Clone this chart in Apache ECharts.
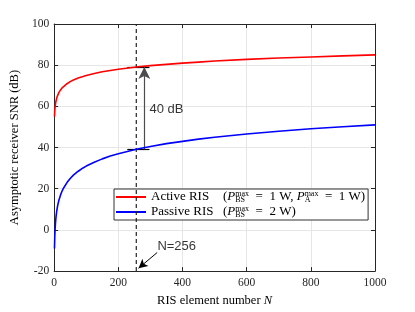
<!DOCTYPE html>
<html><head><meta charset="utf-8">
<script src="https://cdn.jsdelivr.net/npm/echarts@6/dist/echarts.min.js"></script>
<style>html,body{margin:0;padding:0;background:#fff}#c{width:415px;height:312px}</style>
</head><body><div id="c"></div>
<script>
// Data
const nValues = [1, 2, 3, 4, 5, 6, 8, 10, 12, 15, 20, 25, 30, 40, 50, 60, 75, 90, 100, 125, 150, 175, 200, 225, 256, 300, 350, 400, 450, 500, 600, 700, 800, 900, 1000];
const activeSNR = [55.0, 58.0, 59.8, 61.0, 62.0, 62.8, 64.0, 65.0, 65.8, 66.8, 68.0, 69.0, 69.8, 71.0, 72.0, 72.8, 73.8, 74.5, 75.0, 76.0, 76.8, 77.4, 78.0, 78.5, 79.1, 79.8, 80.4, 81.0, 81.5, 82.0, 82.8, 83.5, 84.0, 84.5, 85.0];
const passiveSNR = [-9.0, -3.0, 0.5, 3.0, 5.0, 6.6, 9.1, 11.0, 12.6, 14.5, 17.0, 19.0, 20.5, 23.0, 25.0, 26.6, 28.5, 30.1, 31.0, 32.9, 34.5, 35.9, 37.0, 38.0, 39.2, 40.5, 41.9, 43.0, 44.1, 45.0, 46.6, 47.9, 49.1, 50.1, 51.0];
const xTicks = [0, 200, 400, 600, 800, 1000];
const yTicks = [-20, 0, 20, 40, 60, 80, 100];
const markN = 256;
const activeAtMark = 79.1;
const passiveAtMark = 39.2;
const gainLabel = '40 dB';
const markLabel = 'N=256';

const serif = '"Liberation Serif", "DejaVu Serif", serif';
const sans = '"Liberation Sans", Arial, sans-serif';
const axisCol = '#262626';

const chart = echarts.init(document.getElementById('c'));
const richBase = {
  n: {fontFamily: serif, fontSize: 13, width: 72, color: '#000'},
  t: {fontFamily: serif, fontSize: 13, color: '#000'},
  i: {fontFamily: serif, fontSize: 13, fontStyle: 'italic', color: '#000'},
  sb: {fontFamily: serif, fontSize: 8, width: 0, verticalAlign: 'bottom', lineHeight: 14, color: '#000'},
  sp: {fontFamily: serif, fontSize: 8, verticalAlign: 'top', lineHeight: 14, color: '#000'}
};
const axisCommon = {
  type: 'value',
  axisLine: {show: true, onZero: false, lineStyle: {color: axisCol, width: 1}},
  axisTick: {show: true, inside: true, length: 4, lineStyle: {color: axisCol}},
};
const fmt = v => String(v);
chart.setOption({
  animation: false,
  grid: {left: 54, right: 40, top: 24, bottom: 35, containLabel: false},
  xAxis: [
    Object.assign({}, axisCommon, {min: xTicks[0], max: xTicks[xTicks.length-1], interval: 200, position: 'bottom',
      name: '{t|RIS element number }{i|N}', nameLocation: 'middle', nameGap: 21,
      nameTextStyle: {rich: {t: {fontFamily: serif, fontSize: 12.5, color: '#000'}, i: {fontFamily: serif, fontSize: 12.5, fontStyle: 'italic', color: '#000'}}},
      axisLabel: {fontFamily: serif, fontSize: 11.5, color: axisCol, margin: 6, formatter: fmt},
      splitLine: {show: true, lineStyle: {color: '#e6e6e6', width: 1}}}),
    Object.assign({}, axisCommon, {min: xTicks[0], max: xTicks[xTicks.length-1], interval: 200, position: 'top',
      axisLabel: {show: false}, splitLine: {show: false}})
  ],
  yAxis: [
    Object.assign({}, axisCommon, {min: yTicks[0], max: yTicks[yTicks.length-1], interval: 20, position: 'left',
      name: 'Asymptotic receiver SNR (dB)', nameLocation: 'middle', nameGap: 26,
      nameTextStyle: {fontFamily: serif, fontSize: 12.5, color: '#000'},
      axisLabel: {fontFamily: serif, fontSize: 11.5, color: axisCol, margin: 5, formatter: fmt},
      splitLine: {show: true, lineStyle: {color: '#e6e6e6', width: 1}}}),
    Object.assign({}, axisCommon, {min: yTicks[0], max: yTicks[yTicks.length-1], interval: 20, position: 'right',
      axisLabel: {show: false}, splitLine: {show: false}})
  ],
  legend: {
    orient: 'vertical', left: 114, top: 189,
    data: [{name: 'Active RIS', icon: 'rect'}, {name: 'Passive RIS', icon: 'rect'}],
    itemWidth: 30, itemHeight: 2, itemGap: 1, itemTextGap: 3,
    padding: [1, 3, 1, 2],
    borderColor: '#333', borderWidth: 1, borderRadius: 0, backgroundColor: '#fff',
    formatter: function (name) {
      if (name === 'Active RIS') {
        return '{n|Active RIS}{t|(}{i|P}{sb|BS}{sp|max}{t|  =  1 W, }{i|P}{sb|A}{sp|max}{t|  =  1 W)}';
      }
      return '{n|Passive RIS}{t|(}{i|P}{sb|BS}{sp|max}{t|  =  2 W)}';
    },
    textStyle: {rich: richBase, lineHeight: 14}
  },
  series: [
    {name: 'Active RIS', type: 'line', showSymbol: false, symbol: 'none', smooth: false,
      data: nValues.map((n, k) => [n, activeSNR[k]]), lineStyle: {color: '#ff0000', width: 1.6}, itemStyle: {color: '#ff0000'}, z: 5},
    {name: 'Passive RIS', type: 'line', showSymbol: false, symbol: 'none', smooth: false,
      data: nValues.map((n, k) => [n, passiveSNR[k]]), lineStyle: {color: '#0000ff', width: 1.6}, itemStyle: {color: '#0000ff'}, z: 5},
    {name: 'mark', type: 'line', showSymbol: false, symbol: 'none', silent: true,
      data: [[markN, yTicks[0]], [markN, yTicks[yTicks.length-1]]],
      lineStyle: {color: '#222', width: 1.2, type: [4, 3]}, z: 4,
      markLine: {
        silent: true, animation: false, label: {show: false},
        data: [
          [{coord: [markN - 28, activeAtMark], symbol: 'none', lineStyle: {color: '#000', width: 1.2, type: 'solid'}},
           {coord: [markN + 41, activeAtMark], symbol: 'none'}],
          [{coord: [markN - 28, passiveAtMark], symbol: 'none', lineStyle: {color: '#000', width: 1.2, type: 'solid'}},
           {coord: [markN + 41, passiveAtMark], symbol: 'none'}],
          [{coord: [markN + 25, passiveAtMark], symbol: 'none', lineStyle: {color: '#4d4d4d', width: 1.2, type: 'solid'}},
           {coord: [markN + 25, activeAtMark], symbol: 'arrow', symbolSize: [9, 12]}],
          [{coord: [321, -11], symbol: 'none', lineStyle: {color: '#000', width: 1, type: 'solid'}},
           {coord: [263, -18.6], symbol: 'arrow', symbolSize: [7, 9]}]
        ]
      }
    },
    {name: 'labels', type: 'scatter', symbolSize: 1, itemStyle: {color: 'rgba(0,0,0,0)'}, silent: true,
      data: [
        {value: [350, 58.4], label: {show: true, position: 'inside', formatter: gainLabel, fontFamily: sans, fontSize: 13, color: '#000'}},
        {value: [382, -8], label: {show: true, position: 'inside', formatter: markLabel, fontFamily: sans, fontSize: 13, color: '#000'}}
      ], z: 6}
  ]
});
</script></body></html>
